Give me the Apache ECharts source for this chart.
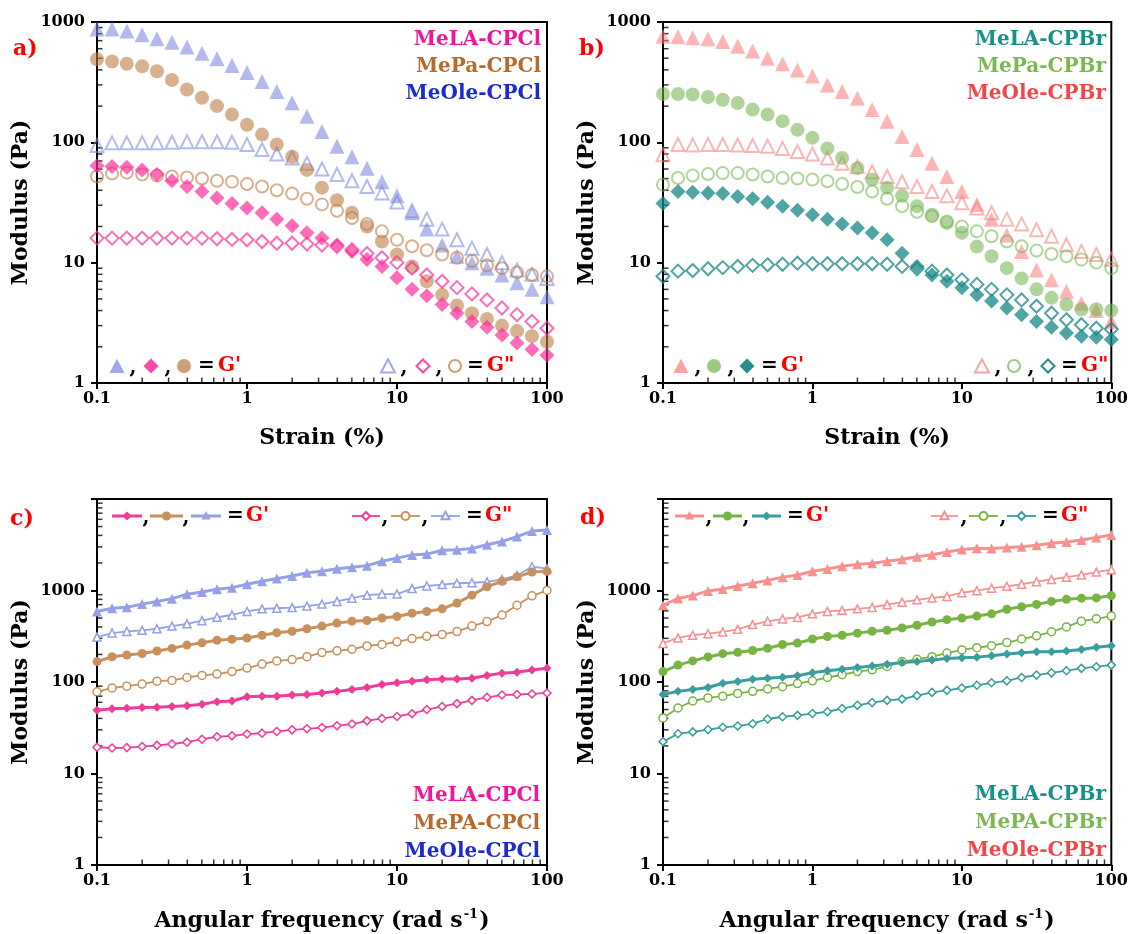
<!DOCTYPE html>
<html><head><meta charset="utf-8">
<script src="https://cdn.jsdelivr.net/npm/echarts@6/dist/echarts.min.js"></script>
<style>html,body{margin:0;padding:0;background:#fff}#c{width:1131px;height:934px}</style>
</head><body><div id="c"></div><script>
// ---------- data ----------
const strain = [0.1,0.126,0.158,0.2,0.251,0.316,0.398,0.501,0.631,0.794,1,1.26,1.58,2,2.51,3.16,3.98,5.01,6.31,7.94,10,12.6,15.8,20,25.1,31.6,39.8,50.1,63.1,79.4,100];
const freq = [0.1,0.126,0.158,0.2,0.251,0.316,0.398,0.501,0.631,0.794,1,1.26,1.58,2,2.51,3.16,3.98,5.01,6.31,7.94,10,12.6,15.8,20,25.1,31.6,39.8,50.1,63.1,79.4,100];

// panel a (chloride, strain sweep)
const a_MeOle_Gp  = [875,875,840,785,725,680,620,550,495,435,380,320,265,213,165,123,93,76,61,47,36,26,19,14,11.3,10,9,7.9,6.8,6.0,5.2];
const a_MeOle_Gpp = [94,99,99,99,99,100,101,101,101,100,96,87,80,74,67,60,54,48,43,38,32,27,23,19,15.5,13.2,11.7,10,8.7,8.0,7.4];
const a_MePa_Gp   = [490,470,450,428,390,330,275,235,200,170,140,116,96,76,59,42,33,26,20,15,11.7,9.3,7.0,5.4,4.4,3.8,3.4,3.0,2.7,2.45,2.2];
const a_MePa_Gpp  = [52,55,56,54,53,52,51,50,48,47,45,43,40,37.5,34,30.5,27,23.5,21,18.2,15.5,13.7,12.7,11.7,11,10.3,9.5,9.0,8.3,7.9,7.7];
const a_MeLA_Gp   = [64,63,62,59,54,48,43,39,34.5,31,28.5,26,23,20.3,17.7,16,14,12.4,10.6,9.3,7.5,6.0,5.3,4.5,3.8,3.25,2.9,2.5,2.15,1.9,1.7];
const a_MeLA_Gpp  = [16,16,16,16,16,16,16,16,15.8,15.6,15.5,15,14.5,14.5,14.3,14,13.6,12.8,11.9,11,10,9,7.9,7.0,6.2,5.5,4.9,4.2,3.7,3.25,2.85];

// panel b (bromide, strain sweep)
const b_MeOle_Gp  = [760,755,740,725,690,630,575,500,450,400,355,300,265,233,187,150,112,87,67,52,39,30.5,23,17,12.4,8.7,7.2,5.8,4.6,4.0,3.25];
const b_MeOle_Gpp = [79,96,95,96,96,95,94,93,89,84,80,74,67,63,57,52,47,43,39,36,31.5,28.5,26,23,21,18.8,16.6,14.1,12.4,11.7,10.7];
const b_MePa_Gp   = [252,252,250,238,226,212,187,170,150,127,109,89,74,61,49,42,36,29.5,25,21.4,17.7,13.6,11.3,9.0,7.4,6.0,5.1,4.5,4.1,4.1,4.0];
const b_MePa_Gpp  = [44.5,50.5,53,54.5,55.5,55.5,54,52,50.5,50,49,47.5,45,42.5,39,34,29.5,26.5,24.3,22,20,18.2,16.6,15,13.7,12.6,11.8,11.3,10.6,10,9.0];
const b_MeLA_Gp   = [31,39,38.5,38,37.5,35.5,34,31.7,29.4,27.2,25,23,21,19.4,17.7,15.5,12,9.3,7.9,7.0,6.2,5.4,4.8,4.2,3.7,3.25,2.9,2.6,2.45,2.4,2.3];
const b_MeLA_Gpp  = [7.7,8.5,8.6,8.9,9.1,9.3,9.5,9.6,9.7,9.9,9.8,9.8,9.8,9.8,9.8,9.7,9.3,8.9,8.5,7.9,7.2,6.6,6.0,5.4,4.9,4.35,3.8,3.35,3.05,2.85,2.8];

// panel c (chloride, frequency sweep)
const c_MeOle_Gp  = [590,640,655,710,760,815,910,965,1030,1075,1170,1260,1350,1440,1560,1620,1730,1800,1870,2090,2260,2450,2500,2750,2790,2880,3160,3430,3880,4460,4570];
const c_MeOle_Gpp = [310,343,357,367,382,408,432,468,510,540,590,630,640,650,675,710,760,825,890,915,915,1050,1120,1160,1200,1215,1240,1320,1460,1820,1730];
const c_MePA_Gp   = [167,189,197,205,218,233,253,268,286,293,303,324,345,358,382,408,440,462,470,500,520,565,590,630,730,890,1100,1260,1410,1590,1620];
const c_MePA_Gpp  = [78,86,90,95,102,104,112,118,122,130,142,157,170,176,189,210,219,228,248,257,275,298,316,331,356,408,457,540,690,875,1000];
const c_MeLA_Gp   = [49,51,51.5,52.5,53,54,55,57,61,62,69,70,70,72,73,76,79,83,87,94,98,102,106,108,108,110,118,125,128,135,141];
const c_MeLA_Gpp  = [19.4,19,19.2,19.7,20.3,21,22,23.7,25.2,25.8,27,27.6,28.8,30,30.8,31.8,33.3,34.7,37.6,40,42,45,50,54,58,63,68,72,73,74,76];

// panel d (bromide, frequency sweep)
const d_MeOle_Gp  = [690,820,880,990,1040,1120,1200,1290,1400,1480,1620,1720,1840,1930,1990,2090,2190,2340,2460,2640,2810,2900,2880,2950,3000,3120,3280,3390,3560,3800,4050];
const d_MeOle_Gpp = [264,303,325,337,353,376,424,461,489,508,556,590,607,630,653,700,745,790,830,860,945,995,1060,1110,1170,1250,1320,1400,1480,1590,1690];
const d_MePA_Gp   = [130,153,170,188,204,211,221,234,257,266,295,314,324,342,359,368,390,417,452,480,500,525,556,623,665,705,760,800,825,830,880];
const d_MePA_Gpp  = [40.5,52,62,67,70,75,79,84,89,96,103,112,120,130,136,148,167,177,189,207,224,237,249,270,295,320,354,400,462,490,525];
const d_MeLA_Gp   = [73,79,83,87,97,101,107,110,113,117,126,133,138,144,150,156,163,167,174,181,184,187,194,202,209,214,214,218,227,240,249];
const d_MeLA_Gpp  = [22.3,27.2,28.5,30.2,32,33,35,39.4,41.7,43.2,45.2,47.3,51.3,55.6,59.6,63,65,71,77,81,86,92,98,103,112,119,126,133,141,147,153];

// axis furniture
const xMinorTicks = [0.2,0.3,0.4,0.5,0.6,0.7,0.8,0.9,2,3,4,5,6,7,8,9,20,30,40,50,60,70,80,90];
const yMinorTicks3 = [2,3,4,5,6,7,8,9,20,30,40,50,60,70,80,90,200,300,400,500,600,700,800,900];
const yMinorTicks4 = yMinorTicks3.concat([2000,3000,4000,5000,6000,7000,8000,9000]);
const namesA = ['MeLA-CPCl','MePa-CPCl','MeOle-CPCl'];
const namesB = ['MeLA-CPBr','MePa-CPBr','MeOle-CPBr'];
const namesC = ['MeLA-CPCl','MePA-CPCl','MeOle-CPCl'];
const namesD = ['MeLA-CPBr','MePA-CPBr','MeOle-CPBr'];

// ---------- styling ----------
const FF = '"DejaVu Serif", "Liberation Serif", serif';
const colA = {tri:'rgba(125,135,222,0.72)', cir:'rgba(190,125,70,0.75)', dia:'rgba(255,40,150,0.85)'};
const colB = {tri:'rgba(250,128,128,0.72)', cir:'rgba(120,180,85,0.72)', dia:'rgba(25,135,135,0.95)'};
const colC = {tri:'#95a0e6', cir:'#c8905c', dia:'#f03c98'};
const colD = {tri:'#f89090', cir:'#78b444', dia:'#3a9e9e'};
const txtA = ['#f0169a','#b8692c','#1c2ccc'];
const txtB = ['#18908c','#7cb850','#f04848'];

const zip = (x, y) => x.map((v, i) => [v, y[i]]);
const SYM = {tri:'triangle', cir:'circle', dia:'diamond'};
const SIZE = {tri:15, cir:14, dia:15};

function scat(gi, x, y, shape, color, filled) {
  return {
    type:'scatter', xAxisIndex:gi, yAxisIndex:gi, data:zip(x,y),
    symbol:SYM[shape], symbolSize: filled ? SIZE[shape] : SIZE[shape]-2,
    itemStyle: filled ? {color:color} : {color:'rgba(0,0,0,0)', borderColor:color, borderWidth:2},
    silent:true, z:3
  };
}
function lin(gi, x, y, shape, color, filled) {
  return {
    type:'line', xAxisIndex:gi, yAxisIndex:gi, data:zip(x,y),
    symbol:SYM[shape], symbolSize: filled ? (shape==='tri'?10:9) : 8, showSymbol:true,
    lineStyle:{color:color, width: filled ? 3 : 1.8},
    itemStyle: filled ? {color:color} : {color:'#fff', borderColor:color, borderWidth:1.5},
    silent:true, z:3
  };
}
function minor(gi, ymin, yTicks) {
  return [
    {type:'scatter', xAxisIndex:gi, yAxisIndex:gi, data:xMinorTicks.map(v=>[v,ymin]),
     symbol:'rect', symbolSize:[1.5,5], symbolOffset:[0,-3], itemStyle:{color:'#000'},
     silent:true, clip:false, z:1},
    {type:'scatter', xAxisIndex:gi, yAxisIndex:gi, data:yTicks.map(v=>[0.1,v]),
     symbol:'rect', symbolSize:[5,1.5], symbolOffset:[3,0], itemStyle:{color:'#000'},
     silent:true, clip:false, z:1}
  ];
}

const grids = [
  {left:97, top:22, width:450, height:361},
  {left:663, top:22, width:450, height:361},
  {left:97, top:499, width:450, height:370},
  {left:663, top:499, width:450, height:370}
].map(g => Object.assign(g, {show:true, borderColor:'#000', borderWidth:2, backgroundColor:'transparent', containLabel:false}));

const titleStyle = {fontFamily:FF, fontWeight:'bold', fontSize:22, color:'#000'};
const freqName = '{n|Angular frequency (rad s}{s|-1}{n|)}';
const freqStyle = {fontFamily:FF, fontWeight:'bold', fontSize:22, color:'#000',
  rich:{n:{fontFamily:FF, fontWeight:'bold', fontSize:22, color:'#000', lineHeight:26},
        s:{fontFamily:FF, fontWeight:'bold', fontSize:13, color:'#000', verticalAlign:'top', lineHeight:26, padding:[0,1,12,1]}}};

function xAx(gi, name, nameGap, ns) {
  return {type:'log', logBase:10, gridIndex:gi, min:0.1, max:100,
    axisLine:{show:true, onZero:false, lineStyle:{color:'#000', width:2}},
    axisTick:{show:true, inside:false, length:6, lineStyle:{color:'#000', width:2}},
    axisLabel:{fontFamily:FF, fontWeight:'bold', fontSize:16, color:'#000', margin:8,
      formatter: v => v < 0.5 ? '0.1' : String(Math.round(v))},
    splitLine:{show:false}, minorTick:{show:false},
    name:name, nameLocation:'middle', nameGap:nameGap, nameTextStyle:ns};
}
function yAx(gi, max) {
  return {type:'log', logBase:10, gridIndex:gi, min:1, max:max,
    axisLine:{show:true, onZero:false, lineStyle:{color:'#000', width:2}},
    axisTick:{show:true, inside:false, length:6, lineStyle:{color:'#000', width:2}},
    axisLabel:{fontFamily:FF, fontWeight:'bold', fontSize:16, color:'#000', margin:12,
      formatter: v => v > 5000 ? '' : String(Math.round(v))},
    splitLine:{show:false},
    name:'Modulus (Pa)', nameLocation:'middle', nameGap:65, nameTextStyle:titleStyle};
}

const series = [].concat(
  minor(0,1,yMinorTicks3), minor(1,1,yMinorTicks3), minor(2,1,yMinorTicks4), minor(3,1,yMinorTicks4),
  [
   scat(0, strain, a_MeOle_Gp, 'tri', colA.tri, true),
   scat(0, strain, a_MeOle_Gpp, 'tri', colA.tri, false),
   scat(0, strain, a_MePa_Gp, 'cir', colA.cir, true),
   scat(0, strain, a_MePa_Gpp, 'cir', colA.cir, false),
   scat(0, strain, a_MeLA_Gp, 'dia', colA.dia, true),
   scat(0, strain, a_MeLA_Gpp, 'dia', colA.dia, false),

   scat(1, strain, b_MeOle_Gp, 'tri', colB.tri, true),
   scat(1, strain, b_MeOle_Gpp, 'tri', colB.tri, false),
   scat(1, strain, b_MePa_Gp, 'cir', colB.cir, true),
   scat(1, strain, b_MePa_Gpp, 'cir', colB.cir, false),
   scat(1, strain, b_MeLA_Gp, 'dia', colB.dia, true),
   scat(1, strain, b_MeLA_Gpp, 'dia', colB.dia, false),

   lin(2, freq, c_MeOle_Gp, 'tri', colC.tri, true),
   lin(2, freq, c_MeOle_Gpp, 'tri', colC.tri, false),
   lin(2, freq, c_MePA_Gp, 'cir', colC.cir, true),
   lin(2, freq, c_MePA_Gpp, 'cir', colC.cir, false),
   lin(2, freq, c_MeLA_Gp, 'dia', colC.dia, true),
   lin(2, freq, c_MeLA_Gpp, 'dia', colC.dia, false),

   lin(3, freq, d_MeOle_Gp, 'tri', colD.tri, true),
   lin(3, freq, d_MeOle_Gpp, 'tri', colD.tri, false),
   lin(3, freq, d_MePA_Gp, 'cir', colD.cir, true),
   lin(3, freq, d_MePA_Gpp, 'cir', colD.cir, false),
   lin(3, freq, d_MeLA_Gp, 'dia', colD.dia, true),
   lin(3, freq, d_MeLA_Gpp, 'dia', colD.dia, false)
  ]);

// ---------- graphic annotations (legends, panel labels) ----------
const G = [];
function txt(s, x, y, color, size, align) {
  G.push({type:'text', x:x, y:y, silent:true, z:10,
    style:{text:s, fill:color, font:'bold '+size+'px '+FF, align:align||'left', verticalAlign:'middle',
           textAlign:align||'left', textVerticalAlign:'middle'}});
}
function mk(shape, cx, cy, s, color, filled, bg) {
  const st = filled ? {fill:color} : {fill:bg||'rgba(0,0,0,0)', stroke:color, lineWidth:2};
  if (shape === 'cir') G.push({type:'circle', silent:true, z:10, shape:{cx:cx, cy:cy, r:s/2}, style:st});
  else if (shape === 'tri') G.push({type:'polygon', silent:true, z:10, shape:{points:[[cx,cy-s*0.55],[cx-s/2,cy+s*0.4],[cx+s/2,cy+s*0.4]]}, style:st});
  else G.push({type:'polygon', silent:true, z:10, shape:{points:[[cx,cy-s/2],[cx+s/2,cy],[cx,cy+s/2],[cx-s/2,cy]]}, style:st});
}
function seg(x1, x2, y, color, w) {
  G.push({type:'line', silent:true, z:9, shape:{x1:x1, y1:y, x2:x2, y2:y}, style:{stroke:color, lineWidth:w}});
}
function comma(x, y) { txt(',', x, y+2, '#000', 20, 'center'); }

// panel labels
txt('a)', 13, 49, '#ff0000', 22); txt('b)', 579, 49, '#ff0000', 22);
txt('c)', 10, 519, '#ff0000', 22); txt('d)', 580, 518, '#ff0000', 22);

// sample names
[[namesA, txtA, 541, [40,67,94]], [namesB, txtB, 1106, [40,67,94]],
 [namesC, txtA, 540, [796,824,852]], [namesD, txtB, 1106, [795,823,851]]].forEach(([n, c, x, ys]) => {
  n.forEach((s, i) => txt(s, x, ys[i], c[i], 20, 'right'));
});

// panel a symbol key
(function(){
  const y = 366;
  mk('tri',117,y+1,15,colA.tri,true); comma(133,y); mk('dia',151,y,15,colA.dia,true); comma(168,y); mk('cir',184,y,14,colA.cir,true);
  txt('=',198,y,'#000',20); txt("G'",218,y,'#ff0000',20);
  mk('tri',388,y+1,14,colA.tri,false); comma(404,y); mk('dia',423,y,13,colA.dia,false); comma(439,y); mk('cir',455,y,12,colA.cir,false);
  txt('=',467,y,'#000',20); txt('G"',487,y,'#ff0000',20);
})();
// panel b symbol key
(function(){
  const y = 366;
  mk('tri',681,y+1,15,colB.tri,true); comma(698,y); mk('cir',714,y,14,colB.cir,true); comma(731,y); mk('dia',747,y,15,colB.dia,true);
  txt('=',761,y,'#000',20); txt("G'",781,y,'#ff0000',20);
  mk('tri',982,y+1,14,colB.tri,false); comma(998,y); mk('cir',1014,y,12,colB.cir,false); comma(1031,y); mk('dia',1048,y,13,colB.dia,false);
  txt('=',1061,y,'#000',20); txt('G"',1081,y,'#ff0000',20);
})();
// panel c line key
(function(){
  const y = 516;
  const item = (x1,x2,shape,col,filled) => { seg(x1,x2,y,col,filled?3:1.8); mk(shape,(x1+x2)/2,y,filled?9:8,col,filled,'#fff'); };
  item(112,142,'dia',colC.dia,true); comma(146,y); item(150,183,'cir',colC.cir,true); comma(186,y); item(191,221,'tri',colC.tri,true);
  txt('=',227,y,'#000',20); txt("G'",246,y,'#ff0000',20);
  item(352,380,'dia',colC.dia,false); comma(385,y); item(391,420,'cir',colC.cir,false); comma(425,y); item(431,460,'tri',colC.tri,false);
  txt('=',466,y,'#000',20); txt('G"',485,y,'#ff0000',20);
})();
// panel d line key
(function(){
  const y = 516;
  const item = (x1,x2,shape,col,filled) => { seg(x1,x2,y,col,filled?3:1.8); mk(shape,(x1+x2)/2,y,filled?9:8,col,filled,'#fff'); };
  item(675,704,'tri',colD.tri,true); comma(709,y); item(713,742,'cir',colD.cir,true); comma(746,y); item(752,781,'dia',colD.dia,true);
  txt('=',787,y,'#000',20); txt("G'",806,y,'#ff0000',20);
  item(931,958,'tri',colD.tri,false); comma(964,y); item(969,998,'cir',colD.cir,false); comma(1003,y); item(1007,1036,'dia',colD.dia,false);
  txt('=',1042,y,'#000',20); txt('G"',1061,y,'#ff0000',20);
})();

const chart = echarts.init(document.getElementById('c'), null, {renderer:'canvas'});
chart.setOption({
  animation:false,
  backgroundColor:'#fff',
  grid: grids,
  xAxis: [xAx(0,'Strain (%)',44,titleStyle), xAx(1,'Strain (%)',44,titleStyle),
          xAx(2,freqName,43,freqStyle), xAx(3,freqName,43,freqStyle)],
  yAxis: [yAx(0,1000), yAx(1,1000), yAx(2,10000), yAx(3,10000)],
  series: series,
  graphic: G
});
</script></body></html>
